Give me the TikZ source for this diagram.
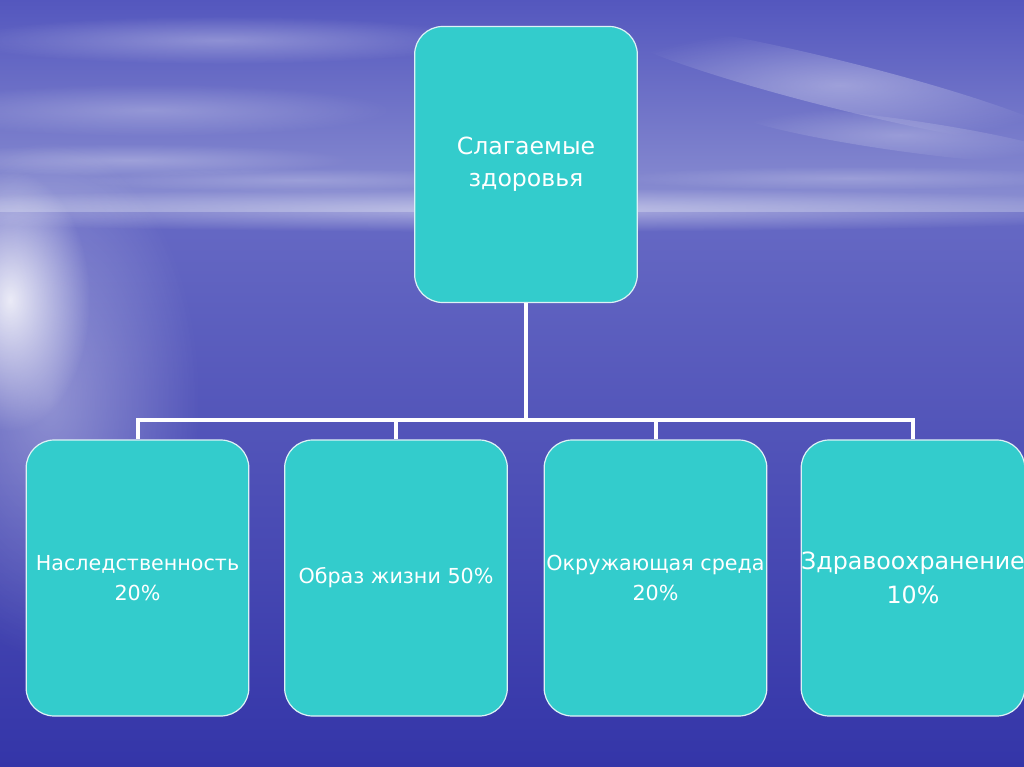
\documentclass[tikz,border=0pt]{standalone}
\usepackage{fontspec}
\setmainfont{DejaVu Sans}
\usetikzlibrary{fadings}
\definecolor{skytop}{HTML}{5457BE}
\definecolor{skyhor}{HTML}{8C90D2}
\definecolor{seatop}{HTML}{6669C4}
\definecolor{seabot}{HTML}{3435A8}
\definecolor{boxfill}{HTML}{33CCCC}
\definecolor{boxline}{HTML}{DDF2F6}
\tikzfading[name=glow, inner color=transparent!0, outer color=transparent!100]
\tikzset{
  box/.style={draw=boxline, line width=0.9pt, fill=boxfill, rounded corners=21pt,
    minimum width=167pt, minimum height=207pt, align=center, text=white,
    inner sep=0pt},
  link/.style={draw=white, line width=3pt},
  streak/.style={fill=white, path fading=glow}
}
\begin{document}
\begin{tikzpicture}[x=0.75pt, y=-0.75pt]
\useasboundingbox (0,0) rectangle (1024,767);
\clip (0,0) rectangle (1024,767);
% background: sky and sea
\shade[top color=skytop, bottom color=skyhor] (0,0) rectangle (1024,214);
\shade[top color=seatop, bottom color=seabot] (0,212) rectangle (1024,767);
% horizon haze
\fill[streak, fill opacity=0.45] (512,210) ellipse (720 and 22);
% cloud streaks
\fill[streak, fill opacity=0.30] (220,40) ellipse (260 and 24);
\fill[streak, fill opacity=0.25] (150,110) ellipse (240 and 26);
\fill[streak, fill opacity=0.25] (130,160) ellipse (220 and 16);
\fill[streak, fill opacity=0.20] (300,180) ellipse (220 and 12);
\fill[streak, fill opacity=0.35, rotate around={-14:(840,85)}] (840,85) ellipse (240 and 24);
\fill[streak, fill opacity=0.25, rotate around={-8:(900,135)}] (900,135) ellipse (170 and 16);
\fill[streak, fill opacity=0.20] (850,178) ellipse (240 and 12);
% sun glitter on the left
\fill[streak, fill opacity=0.85] (10,300) ellipse (80 and 130);
\fill[streak, fill opacity=0.35] (50,400) ellipse (150 and 260);
% boxes
\node[box, font=\fontsize{17.7}{24}\selectfont] (top) at (526,164.5) {Слагаемые\\здоровья};
\node[box, font=\fontsize{15.5}{22.5}\selectfont] (b1) at (137.5,578) {Наследственность\\20\%};
\node[box, font=\fontsize{15.5}{22.5}\selectfont] (b2) at (396,578) {Образ жизни 50\%};
\node[box, font=\fontsize{15.5}{22.5}\selectfont] (b3) at (655.5,578) {Окружающая среда\\20\%};
\node[box, font=\fontsize{17.8}{25}\selectfont, minimum width=165pt] (b4) at (913,578) {Здравоохранение\\10\%};
% connectors
\coordinate (bus) at (526,420);
\draw[link] (top.south) -- (bus);
\draw[link, line join=miter] (b1.north) -- (b1.north |- bus) -- (b4.north |- bus) -- (b4.north);
\draw[link] (b2.north |- bus) -- (b2.north);
\draw[link] (b3.north |- bus) -- (b3.north);
\end{tikzpicture}
\end{document}
